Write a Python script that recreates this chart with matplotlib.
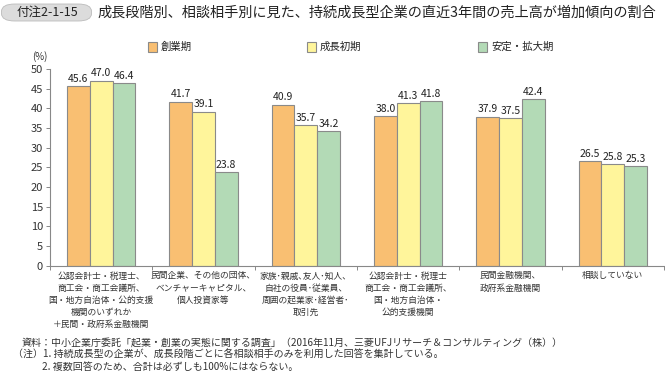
import matplotlib
matplotlib.use("Agg")
import matplotlib.pyplot as plt
from matplotlib.patches import FancyBboxPatch, Rectangle
import numpy as np

plt.rcParams['font.family'] = ['Noto Sans CJK JP', 'DejaVu Sans']

categories = [
    "公認会計士・税理士、\n商工会・商工会議所、\n国・地方自治体・公的支援\n機関のいずれか\n＋民間・政府系金融機関",
    "民間企業、その他の団体、\nベンチャーキャピタル、\n個人投資家等",
    "家族･親戚､友人･知人、\n自社の役員･従業員、\n周囲の起業家･経営者･\n取引先",
    "公認会計士・税理士\n商工会・商工会議所、\n国・地方自治体・\n公的支援機関",
    "民間金融機関、\n政府系金融機関",
    "相談していない",
]
series_names = ["創業期", "成長初期", "安定・拡大期"]
startup = [45.6, 41.7, 40.9, 38.0, 37.9, 26.5]
early_growth = [47.0, 39.1, 35.7, 41.3, 37.5, 25.8]
stable = [46.4, 23.8, 34.2, 41.8, 42.4, 25.3]
yticks = [0, 5, 10, 15, 20, 25, 30, 35, 40, 45, 50]

colors = ["#F9BF72", "#FFF59B", "#B3DAB6"]
W, H = 665, 373
fig = plt.figure(figsize=(W/100, H/100), dpi=100)

# axes: x 50..664, y 69..265 (pixels from top)
ax = fig.add_axes([50/W, 1-265.5/H, (664-50)/W, (265.5-69)/H])
x = np.arange(len(categories))
bw = 0.222
for i, (vals, c) in enumerate(zip([startup, early_growth, stable], colors)):
    pos = x + (i-1)*bw
    ax.bar(pos, vals, bw, color=c, edgecolor="#8a8a8a", linewidth=0.8, label=series_names[i])
    for p, v in zip(pos, vals):
        ax.text(p, v+0.6, f"{v:.1f}", ha="center", va="bottom", fontsize=7.5, color="#222222")

ax.set_xlim(-0.5, len(categories)-0.5)
ax.set_ylim(0, 50)
ax.set_yticks(yticks)
ax.tick_params(axis='y', labelsize=8, length=3, width=0.7, color="#888888", pad=2, labelcolor="#333333")
ax.set_xticks(np.arange(len(categories)+1)-0.5)
ax.set_xticklabels([])
ax.tick_params(axis='x', length=3, width=0.7, color="#888888")
for s in ["top", "right"]:
    ax.spines[s].set_visible(False)
for s in ["left", "bottom"]:
    ax.spines[s].set_color("#888888")
    ax.spines[s].set_linewidth(0.8)

for i, lab in enumerate(categories):
    ax.text(i, -1.5, lab, ha="center", va="top", fontsize=6.3, linespacing=1.45,
            color="#333333", transform=ax.transData)

# (%) label
fig.text(40/W, 1-57/H, "(%)", fontsize=7, ha="center", va="center", color="#333333")

# legend
for name, c, lx in zip(series_names, colors, [148, 307, 478]):
    fig.patches.append(Rectangle((lx/W, 1-51.5/H), 9/W, 9/H, transform=fig.transFigure,
                                 facecolor=c, edgecolor="#8a8a8a", linewidth=0.8))
    fig.text((lx+13)/W, 1-47/H, name, fontsize=7.5, va="center", ha="left", color="#222222")

# title box
fig.patches.append(FancyBboxPatch((1.5/W, 1-21/H), 90/W, 17/H, boxstyle="round,pad=0,rounding_size=0.02",
                                  transform=fig.transFigure, facecolor="#dcdcdc", edgecolor="#bbbbbb", linewidth=0.6))
fig.text(47/W, 1-12.5/H, "付注2-1-15", fontsize=9, ha="center", va="center", color="#222222")
fig.text(97/W, 1-12.5/H, "成長段階別、相談相手別に見た、持続成長型企業の直近3年間の売上高が増加傾向の割合",
         fontsize=10.2, ha="left", va="center", color="#222222")

notes = [
    (22, "資料：中小企業庁委託「起業・創業の実態に関する調査」（2016年11月、三菱UFJリサーチ＆コンサルティング（株））"),
    (13, "（注）1. 持続成長型の企業が、成長段階ごとに各相談相手のみを利用した回答を集計している。"),
    (42, "2. 複数回答のため、合計は必ずしも100%にはならない。"),
]
for j, (nx, n) in enumerate(notes):
    fig.text(nx/W, 1-(343+j*11.8)/H, n, fontsize=7.2, ha="left", va="center", color="#333333")

fig.savefig("out.png", dpi=100)
